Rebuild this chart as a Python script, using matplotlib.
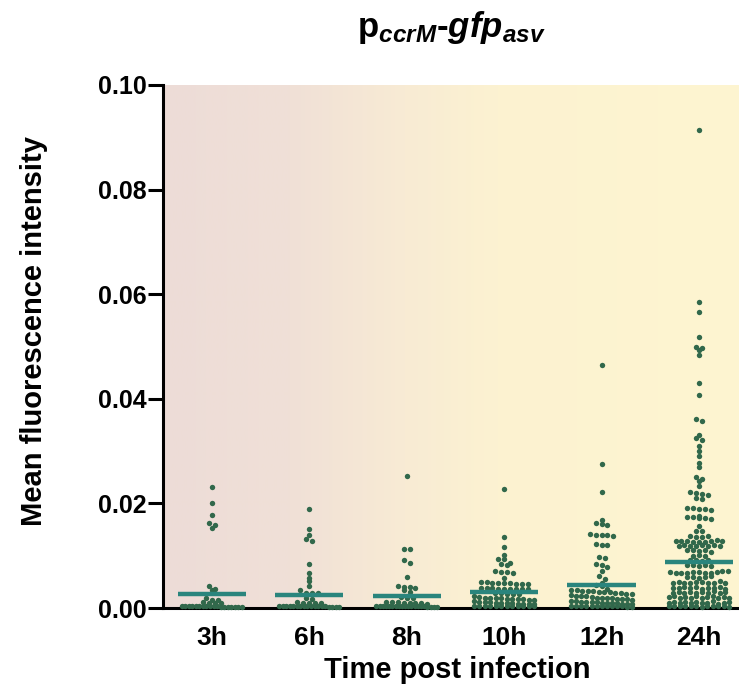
import numpy as np
import matplotlib
matplotlib.use('Agg')
import matplotlib.pyplot as plt
from matplotlib.colors import LinearSegmentedColormap

plt.rcParams['font.family'] = ['Liberation Sans', 'DejaVu Sans']
plt.rcParams['mathtext.fontset'] = 'custom'
plt.rcParams['mathtext.rm'] = 'Liberation Sans'
plt.rcParams['mathtext.bf'] = 'Liberation Sans:bold'
plt.rcParams['mathtext.it'] = 'Liberation Sans:italic'
plt.rcParams['mathtext.bfit'] = 'Liberation Sans:bold:italic'

# data
labels = ['3h', '6h', '8h', '10h', '12h', '24h']
means = [0.0026, 0.0025, 0.0023, 0.0030, 0.0044, 0.0088]

t3 = [0.0231, 0.0201, 0.0178, 0.0163, 0.0159, 0.0153,
      0.0042, 0.0036, 0.0034, 0.0019, 0.0016, 0.0016,
      0.0011, 0.0010, 0.0009, 0.0009,
      0.0004, 0.0004, 0.0004, 0.0004, 0.0004, 0.0003, 0.0003, 0.0003,
      0.0003, 0.0003, 0.0003, 0.0002, 0.0002, 0.0002, 0.0002, 0.0002,
      0.0001, 0.0001]
t6 = [0.0189, 0.0151, 0.0140, 0.0132, 0.0128, 0.0084, 0.0066, 0.0057,
      0.0052, 0.0042, 0.0034, 0.0029, 0.0029, 0.0028, 0.0019, 0.0018,
      0.0011, 0.0010, 0.0010, 0.0009, 0.0009,
      0.0004, 0.0004, 0.0004, 0.0004, 0.0004, 0.0004, 0.0004, 0.0004,
      0.0003, 0.0003, 0.0003, 0.0003, 0.0003, 0.0003,
      0.0002, 0.0002, 0.0002, 0.0002]
t8 = [0.0252, 0.0113, 0.0113, 0.0092, 0.0086, 0.0059, 0.0043, 0.0041,
      0.0040, 0.0038, 0.0034, 0.0030,
      0.0021, 0.0020, 0.0019, 0.0012, 0.0011, 0.0011, 0.0010, 0.0010,
      0.0009, 0.0009, 0.0008,
      0.0004, 0.0004, 0.0004, 0.0004, 0.0004, 0.0004, 0.0004, 0.0004,
      0.0004, 0.0004, 0.0003, 0.0003, 0.0003, 0.0003, 0.0003, 0.0003,
      0.0002, 0.0002, 0.0002, 0.0002]
t10 = [0.0228, 0.0136, 0.0116, 0.0101, 0.0094, 0.0093, 0.0086, 0.0084,
       0.0083, 0.0070, 0.0069, 0.0068, 0.0067, 0.0057,
       0.0050, 0.0049, 0.0048, 0.0048, 0.0047, 0.0047, 0.0046, 0.0046, 0.0046,
       0.0039, 0.0038, 0.0038, 0.0037, 0.0037, 0.0036, 0.0036, 0.0036,
       0.0036, 0.0034,
       0.0029, 0.0028, 0.0027, 0.0026, 0.0026,
       0.0022, 0.0021, 0.0020, 0.0020, 0.0019, 0.0019, 0.0018, 0.0018,
       0.0017, 0.0017, 0.0016, 0.0016,
       0.0013, 0.0012, 0.0011, 0.0011, 0.0010, 0.0010, 0.0009, 0.0009,
       0.0008, 0.0008, 0.0007, 0.0007,
       0.0004, 0.0004, 0.0004, 0.0004, 0.0004, 0.0004,
       0.0003, 0.0003, 0.0003, 0.0003, 0.0003, 0.0003]
t12 = [0.0465, 0.0275, 0.0222, 0.0168, 0.0162, 0.0160, 0.0158,
       0.0141, 0.0140, 0.0140, 0.0139, 0.0138,
       0.0122, 0.0121, 0.0120,
       0.0097, 0.0096, 0.0085, 0.0083, 0.0079, 0.0071, 0.0062, 0.0056,
       0.0047, 0.0044, 0.0043,
       0.0036, 0.0034, 0.0034, 0.0033, 0.0033, 0.0032, 0.0031, 0.0031,
       0.0030, 0.0029, 0.0028, 0.0027, 0.0026,
       0.0024, 0.0023, 0.0022, 0.0022, 0.0021, 0.0020, 0.0020, 0.0019,
       0.0019, 0.0018, 0.0017, 0.0017, 0.0016,
       0.0014, 0.0013, 0.0012, 0.0012, 0.0011, 0.0011, 0.0010, 0.0010,
       0.0009, 0.0009, 0.0008, 0.0007, 0.0007,
       0.0004, 0.0004, 0.0004, 0.0004, 0.0004, 0.0004, 0.0003, 0.0003,
       0.0003, 0.0003, 0.0003, 0.0002, 0.0002]
t24 = [0.0914, 0.0585, 0.0566, 0.0518, 0.0500, 0.0497, 0.0494, 0.0484,
       0.0430, 0.0407, 0.0361, 0.0358,
       0.0331, 0.0325, 0.0321, 0.0310, 0.0300, 0.0290, 0.0277, 0.0270,
       0.0250, 0.0247, 0.0243, 0.0233,
       0.0222, 0.0219, 0.0218, 0.0217, 0.0211, 0.0209,
       0.0192, 0.0191, 0.0190, 0.0189, 0.0188,
       0.0175, 0.0174, 0.0174, 0.0173, 0.0172, 0.0171,
       0.0157, 0.0148, 0.0147,
       0.0137, 0.0136, 0.0136, 0.0138,
       0.0129, 0.0128, 0.0128, 0.0127, 0.0127, 0.0126, 0.0129, 0.0130, 0.0128,
       0.0119, 0.0120, 0.0118, 0.0119, 0.0121, 0.0118, 0.0120, 0.0119,
       0.0110, 0.0111, 0.0109, 0.0110, 0.0108,
       0.0100, 0.0101, 0.0099,
       0.0092, 0.0091, 0.0090, 0.0092,
       0.0082, 0.0083, 0.0081, 0.0082, 0.0080,
       0.0068, 0.0067, 0.0067, 0.0066, 0.0068, 0.0069, 0.0067, 0.0066,
       0.0068, 0.0070, 0.0071,
       0.0059, 0.0060, 0.0058, 0.0059, 0.0061,
       0.0048, 0.0049, 0.0047, 0.0048, 0.0050, 0.0049, 0.0047, 0.0048,
       0.0051, 0.0048,
       0.0038, 0.0039, 0.0040, 0.0038, 0.0041, 0.0037, 0.0039, 0.0038,
       0.0040, 0.0037,
       0.0029, 0.0030, 0.0028, 0.0031, 0.0029, 0.0030, 0.0028, 0.0032,
       0.0029, 0.0030,
       0.0021, 0.0022, 0.0020, 0.0021, 0.0019, 0.0022, 0.0020, 0.0021,
       0.0023, 0.0019, 0.0021, 0.0020,
       0.0010, 0.0011, 0.0009, 0.0012, 0.0010, 0.0011, 0.0009, 0.0010,
       0.0013, 0.0008, 0.0010, 0.0011,
       0.0004, 0.0004, 0.0003, 0.0004, 0.0003, 0.0004, 0.0002, 0.0003,
       0.0004, 0.0003, 0.0004, 0.0002]
groups = [t3, t6, t8, t10, t12, t24]


def swarm_offsets(vals, binh=0.001, dx=0.06, maxw=0.31):
    # prism-like rows: points in the same value bin spread sideways
    vals = np.asarray(vals)
    bins = np.round(vals / binh).astype(int)
    off = np.zeros(len(vals))
    for b in np.unique(bins):
        idx = np.where(bins == b)[0]
        n = len(idx)
        step = dx
        if n > 1 and (n - 1) * step / 2 > maxw:
            step = 2 * maxw / (n - 1)
        off[idx] = (np.arange(n) - (n - 1) / 2) * step
    return off


fig = plt.figure(figsize=(7.39, 6.91), dpi=100)
ax = fig.add_axes([163 / 739, 83 / 691, 576 / 739, 523 / 691])

xlo, xhi = -0.5, 5.41
ylo, yhi = 0.0, 0.10

# background wash, pink on the left fading to pale yellow
cmap = LinearSegmentedColormap.from_list(
    'wash', [(0.0, '#EDDCD7'), (0.22, '#F0E0D7'), (0.42, '#F8EBD4'),
             (0.58, '#FCF2D1'), (1.0, '#FEF5D0')])
grad = np.linspace(0, 1, 256).reshape(1, -1)
ax.imshow(grad, cmap=cmap, extent=(xlo, xhi, ylo, yhi), aspect='auto',
          zorder=0, interpolation='bicubic')

for i, vals in enumerate(groups):
    xs = i + swarm_offsets(vals)
    ax.scatter(xs, vals, s=15, color='#31684B', linewidths=0, zorder=3,
               clip_on=False)
    ax.plot([i - 0.35, i + 0.35], [means[i], means[i]], color='#2A857D',
            lw=3.2, solid_capstyle='butt', zorder=4)

ax.set_xlim(xlo, xhi)
ax.set_ylim(ylo, yhi)
ax.set_xticks(range(len(labels)))
ax.set_xticklabels(labels)
ax.set_yticks([0.0, 0.02, 0.04, 0.06, 0.08, 0.10])
ax.set_yticklabels(['0.00', '0.02', '0.04', '0.06', '0.08', '0.10'])

for s in ['top', 'right']:
    ax.spines[s].set_visible(False)
for s in ['left', 'bottom']:
    ax.spines[s].set_linewidth(2.2)

ax.tick_params(axis='y', length=11, width=2.2, pad=1, labelsize=18)
ax.tick_params(axis='x', length=0, pad=13, labelsize=19)
for t in ax.get_xticklabels() + ax.get_yticklabels():
    t.set_fontweight('bold')

ax.set_xlabel('Time post infection', fontsize=21, fontweight='bold')
ax.xaxis.set_label_coords(0.51, -0.092)
ax.set_ylabel('Mean fluorescence intensity', fontsize=21, fontweight='bold')
ax.yaxis.set_label_coords(-0.200, 0.53)

fig.text(451 / 739, 1 - 37 / 691,
         r'$\mathbf{p}_{\mathbfit{ccrM}}$-$\mathbfit{gfp}_{\mathbfit{asv}}$',
         ha='center', va='baseline', fontsize=25, fontweight='bold')

fig.savefig('out.png', dpi=100)
